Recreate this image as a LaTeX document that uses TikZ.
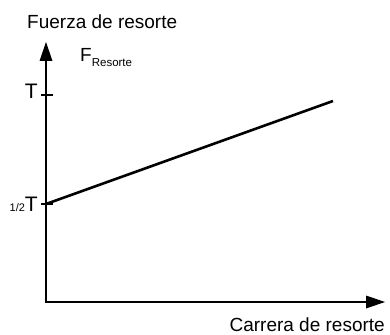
\documentclass[tikz,border=0pt]{standalone}
\usepackage{fontspec}
\setmainfont{Liberation Sans}
\usetikzlibrary{calc}
\tikzset{
  axisline/.style={line width=2.6pt},
  tiphead/.style={fill=black,draw=none},
  lbltext/.style={inner sep=0pt,font=\fontsize{19}{22}\selectfont},
  graphline/.style={line width=2.6pt}}
\begin{document}
\begin{tikzpicture}[x=1pt,y=-1pt]
\useasboundingbox (0,0) rectangle (390,334);
\coordinate (O) at (46,302);
\coordinate (ytip) at (46,42);
\coordinate (xtip) at (385,302);
\coordinate (yend) at (46,58);
\coordinate (xend) at (368,302);
\draw[axisline] ($(O)+(0,1.3)$) -- (yend);
\draw[axisline] ($(O)+(-1.3,0)$) -- (xend);
\fill[tiphead] (ytip) -- ($(ytip)+(-6.5,19)$) -- ($(ytip)+(6.5,19)$) -- cycle;
\fill[tiphead] (xtip) -- ($(xtip)+(-19,-6.5)$) -- ($(xtip)+(-19,6.5)$) -- cycle;
\coordinate (tT) at (46,95);
\coordinate (tH) at (46,204);
\coordinate (E) at (333,101);
\draw[graphline] ($(tT)+(-5,0)$) -- ($(tT)+(7,0)$);
\draw[graphline] ($(tH)+(-5,0)$) -- ($(tH)+(7,0)$);
\draw[graphline] (tH) -- (E);
\node[lbltext,anchor=base east] (T) at (38,99) {\fontsize{21}{22}\selectfont T};
\node[lbltext,anchor=base east] (H) at (38,211) {{\fontsize{11}{12}\selectfont 1/2}\fontsize{21}{22}\selectfont T};
\node[lbltext,anchor=base west] (ylab) at (27,29) {Fuerza de resorte};
\node[lbltext,anchor=base east] (xlab) at (385,331) {Carrera de resorte};
\node[lbltext,anchor=base west] (F) at (80,62) {F\raisebox{-5pt}{\fontsize{11.5}{12}\selectfont Resorte}};
\end{tikzpicture}
\end{document}
